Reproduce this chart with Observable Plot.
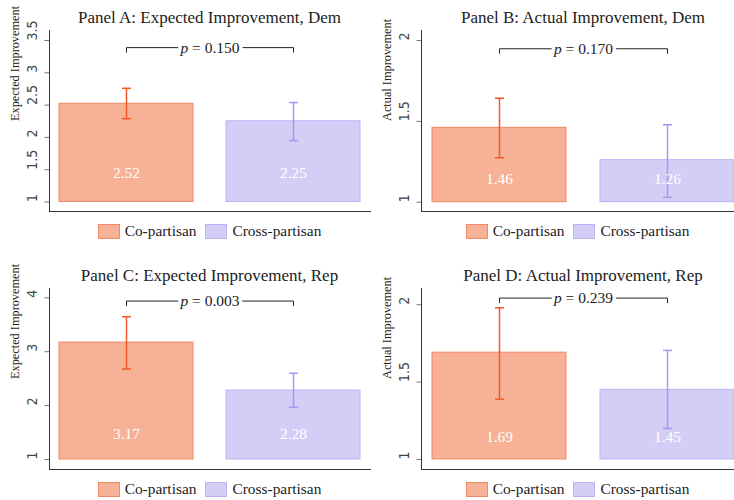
<!DOCTYPE html>
<html><head><meta charset="utf-8">
<script src="https://cdn.jsdelivr.net/npm/d3@7"></script>
<script src="https://cdn.jsdelivr.net/npm/@observablehq/plot@0.6"></script>
<style>
body{margin:0;background:#fff;}
#chart{position:relative;width:734px;height:500px;overflow:hidden;font-family:"Liberation Serif","Times New Roman",serif;color:#222;}
#chart svg{position:absolute;}
.title{position:absolute;text-align:center;font-size:17px;line-height:20px;white-space:nowrap;font-family:"Liberation Serif",serif;}
.legend{position:absolute;display:flex;justify-content:center;align-items:center;font-size:15.4px;height:16px;white-space:nowrap;font-family:"Liberation Serif",serif;}
.sw{width:20px;height:13px;border:1px solid;margin-right:5px;}
.item{display:flex;align-items:center;margin:0 4.5px;}
</style></head><body><div id="chart"></div>
<script>
// ---- data ----
const groups = ["Co-partisan", "Cross-partisan"];
const titles = ["Panel A: Expected Improvement, Dem", "Panel B: Actual Improvement, Dem",
                "Panel C: Expected Improvement, Rep", "Panel D: Actual Improvement, Rep"];
const yLabels = ["Expected Improvement", "Actual Improvement", "Expected Improvement", "Actual Improvement"];
const means = [[2.52, 2.25], [1.46, 1.26], [3.17, 2.28], [1.69, 1.45]];
const ciLow = [[2.29, 1.95], [1.275, 1.03], [2.68, 1.97], [1.39, 1.20]];
const ciHigh = [[2.76, 2.54], [1.643, 1.479], [3.65, 2.60], [1.98, 1.705]];
const pValues = ["0.150", "0.170", "0.003", "0.239"];
const yTicks = [[1, 1.5, 2, 2.5, 3, 3.5], [1, 1.5, 2], [1, 2, 3, 4], [1, 1.5, 2]];

// ---- layout / style ----
const serif = "'Liberation Serif', 'Times New Roman', serif";
const narrow = "'Liberation Sans Narrow', 'Arial Narrow', 'DejaVu Sans Condensed', sans-serif";
const fills = ["#f6b197", "#d4cdf5"];
const strokes = ["#f08a66", "#bdb2f5"];
const errColors = ["#f05a2a", "#a797f2"];
const yDomains = [[0.853, 3.655], [0.9425, 2.062], [0.8145, 4.173], [0.935, 2.105]];
const bracketY = [3.39, 1.949, 3.94, 2.043];
const labelOff = [29, 23, 25, 22.5];
const boxes = [
  {left: 0, top: 0, width: 370, ml: 49},
  {left: 367, top: 0, width: 378, ml: 54},
  {left: 0, top: 258, width: 370, ml: 49},
  {left: 367, top: 258, width: 378, ml: 54}
];

const chart = document.getElementById("chart");
const capSym = {draw(ctx) { ctx.moveTo(-4.5, 0); ctx.lineTo(4.5, 0); }};
const downSym = {draw(ctx) { ctx.moveTo(0, 0); ctx.lineTo(0, 5); }};
const tickSym = {draw(ctx) { ctx.moveTo(-5, 0); ctx.lineTo(0, 0); }};

boxes.forEach((L, i) => {
  const rows = groups.map((g, j) => ({
    group: g, mean: means[i][j], lo: ciLow[i][j], hi: ciHigh[i][j],
    fill: fills[j], stroke: strokes[j], err: errColors[j]
  }));
  const by = bracketY[i];
  const svg = Plot.plot({
    width: L.width, height: 212,
    marginLeft: L.ml, marginRight: 0, marginTop: 30, marginBottom: 1,
    style: {background: "transparent", fontFamily: serif, overflow: "visible"},
    x: {type: "band", domain: groups, paddingInner: 0.2, paddingOuter: 0.06, axis: null},
    y: {domain: yDomains[i], axis: null},
    color: {type: "identity"},
    marks: [
      Plot.barY(rows, {x: "group", y1: 1, y2: "mean", fill: "fill", stroke: "stroke", strokeWidth: 1}),
      Plot.ruleX(rows, {x: "group", y1: "lo", y2: "hi", stroke: "err", strokeWidth: 1.5}),
      Plot.dot(rows, {x: "group", y: "lo", symbol: capSym, stroke: "err", strokeWidth: 1.5, fill: "none"}),
      Plot.dot(rows, {x: "group", y: "hi", symbol: capSym, stroke: "err", strokeWidth: 1.5, fill: "none"}),
      Plot.text(rows, {x: "group", y: 1, dy: -labelOff[i], text: d => d.mean.toFixed(2), fill: "white",
        fontSize: 15.5, fontFamily: serif}),
      Plot.link([by], {x1: () => groups[0], x2: () => groups[1], y1: d => d, y2: d => d, stroke: "#222", strokeWidth: 1}),
      Plot.dot(groups, {x: d => d, y: () => by, symbol: downSym, stroke: "#222", strokeWidth: 1, fill: "none"}),
      Plot.text([pValues[i]], {y: () => by, frameAnchor: "middle", text: d => "p = " + d, fontSize: 15.5,
        fontFamily: serif, fill: "#222", stroke: "white", strokeWidth: 7, paintOrder: "stroke"}),
      // y ticks and rotated tick labels
      Plot.dot(yTicks[i], {y: d => d, frameAnchor: "left", symbol: tickSym, stroke: "#777", strokeWidth: 1, fill: "none"}),
      Plot.text(yTicks[i], {y: d => d, frameAnchor: "left", dx: -17, rotate: -90, text: d => String(d),
        fontSize: 14, fontFamily: narrow, fill: "#444"}),
      Plot.text([yLabels[i]], {frameAnchor: "left", rotate: -90, dx: -34, text: d => d, fontSize: 12.3,
        fontFamily: serif, fill: "#222"}),
      Plot.frame({anchor: "left", stroke: "#333"}),
      Plot.frame({anchor: "bottom", stroke: "#333"})
    ]
  });
  svg.style.left = L.left + "px";
  svg.style.top = L.top + "px";
  // italic p
  svg.querySelectorAll("text").forEach(t => {
    if (t.textContent.startsWith("p = ")) {
      const rest = t.textContent.slice(1);
      t.textContent = "";
      const a = document.createElementNS("http://www.w3.org/2000/svg", "tspan");
      a.setAttribute("font-style", "italic"); a.textContent = "p";
      const b = document.createElementNS("http://www.w3.org/2000/svg", "tspan");
      b.textContent = rest;
      t.appendChild(a); t.appendChild(b);
    }
  });
  chart.appendChild(svg);

  const pw = L.width - L.ml;
  const title = document.createElement("div");
  title.className = "title";
  title.style.left = (L.left + L.ml) + "px";
  title.style.width = pw + "px";
  title.style.top = (L.top + 8) + "px";
  title.textContent = titles[i];
  chart.appendChild(title);

  const legend = document.createElement("div");
  legend.className = "legend";
  const vis = Math.min(L.left + L.width, 734) - (L.left + L.ml);
  legend.style.left = (L.left + L.ml) + "px";
  legend.style.width = vis + "px";
  legend.style.top = (L.top + 223) + "px";
  groups.forEach((g, j) => {
    const it = document.createElement("div"); it.className = "item";
    const sw = document.createElement("div"); sw.className = "sw";
    sw.style.background = fills[j]; sw.style.borderColor = strokes[j];
    const tx = document.createElement("span"); tx.textContent = g;
    it.appendChild(sw); it.appendChild(tx); legend.appendChild(it);
  });
  chart.appendChild(legend);
});
</script></body></html>
